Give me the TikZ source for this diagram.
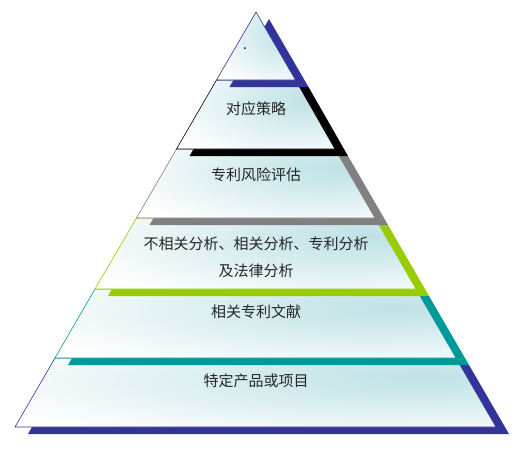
\documentclass[tikz,border=0pt]{standalone}
\usepackage{fontspec}
\newfontfamily\cjk{Noto Sans CJK SC}
\definecolor{deepblue}{RGB}{51,51,153}
\definecolor{leafgreen}{RGB}{153,204,0}
\definecolor{seateal}{RGB}{0,153,153}
\definecolor{midgray}{RGB}{128,128,128}
\definecolor{glow}{RGB}{190,225,229}
\pgfdeclareradialshading{layerglow}{\pgfpoint{18bp}{12bp}}{color(0bp)=(glow); color(14bp)=(glow!70!white); color(42bp)=(white); color(100bp)=(white)}

\begin{document}
\begin{tikzpicture}[x=1pt,y=-1pt, every node/.style={font=\cjk\fontsize{15}{27}\selectfont, text=black!85, align=center},
    face/.style={draw=#1, line width=0.6pt, shading=layerglow},
    rim/.style={fill=#1, shift={(13,7)}}]
    \useasboundingbox (0,0) rectangle (530,450);
    % bottom layer first, each upper layer covers the one below
    \fill[rim=deepblue] (55,358) -- (456,358) -- (496,427) -- (15,427) -- cycle;
    \path[face=deepblue] (55,358) -- (456,358) -- (496,427) -- (15,427) -- cycle;
    \fill[rim=seateal] (95,289) -- (416,289) -- (456,358) -- (55,358) -- cycle;
    \path[face=seateal] (95,289) -- (416,289) -- (456,358) -- (55,358) -- cycle;
    \fill[rim=leafgreen] (136.5,218) -- (375,218) -- (416,289) -- (95,289) -- cycle;
    \path[face=leafgreen] (136.5,218) -- (375,218) -- (416,289) -- (95,289) -- cycle;
    \fill[rim=midgray] (176.5,149) -- (335,149) -- (375,218) -- (136.5,218) -- cycle;
    \path[face=midgray] (176.5,149) -- (335,149) -- (375,218) -- (136.5,218) -- cycle;
    \fill[rim=black] (216.5,80) -- (295.5,80) -- (335,149) -- (176.5,149) -- cycle;
    \path[face=black] (216.5,80) -- (295.5,80) -- (335,149) -- (176.5,149) -- cycle;
    \fill[rim=deepblue] (256,12) -- (295.5,80) -- (216.5,80) -- cycle;
    \path[face=deepblue] (256,12) -- (295.5,80) -- (216.5,80) -- cycle;
    % labels
    \node[anchor=base] (dot) at (245,49) {.};
    \node (strategy) at (256,109) {对应策略};
    \node (risk) at (256,175) {专利风险评估};
    \node (analysis) at (256,257) {不相关分析、相关分析、专利分析\\及法律分析};
    \node (literature) at (256,312) {相关专利文献};
    \node (product) at (256,381) {特定产品或项目};
\end{tikzpicture}
\end{document}
